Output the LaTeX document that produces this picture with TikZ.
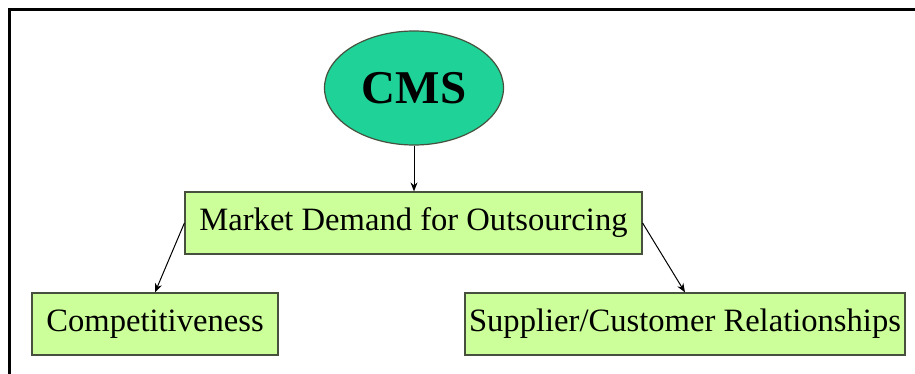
\documentclass[tikz,border=0pt]{standalone}
\usepackage{fontspec}
\setmainfont{Liberation Serif}
\usetikzlibrary{shapes.geometric,arrows.meta}
\definecolor{cmsgreen}{RGB}{30,210,152}
\definecolor{boxgreen}{RGB}{204,255,153}
\definecolor{boxedge}{RGB}{70,80,60}
\tikzset{
  topic/.style={draw=boxedge, fill=boxgreen, line width=0.6pt, minimum height=31pt,
    inner sep=0pt, font=\fontsize{16.3}{18}\selectfont},
  link/.style={-{Stealth[length=4.5pt,width=3.5pt]}, line width=0.5pt}
}
\begin{document}
\begin{tikzpicture}[x=0.5pt, y=-0.5pt]
\useasboundingbox (0,0) rectangle (915,374);
\draw[line width=1.5pt] (915,10) -- (9,10) -- (9,374);
\node[ellipse, draw=boxedge, fill=cmsgreen, line width=0.6pt, minimum width=89.5pt,
  minimum height=57pt, font=\fontsize{23.5}{26}\selectfont\bfseries] (cms) at (414,88) {CMS};
\node[topic, minimum width=228.5pt] (mkt) at (413.5,223) {Market Demand for Outsourcing};
\node[topic, minimum width=123pt] (comp) at (155,324) {Competitiveness};
\node[topic, minimum width=220pt] (supp) at (685,324) {Supplier/Customer Relationships};
\draw[link] (cms.south) -- (cms.south |- mkt.north);
\draw[link] (mkt.west) -- (comp.north);
\draw[link] (mkt.east) -- (supp.north);
\end{tikzpicture}
\end{document}
